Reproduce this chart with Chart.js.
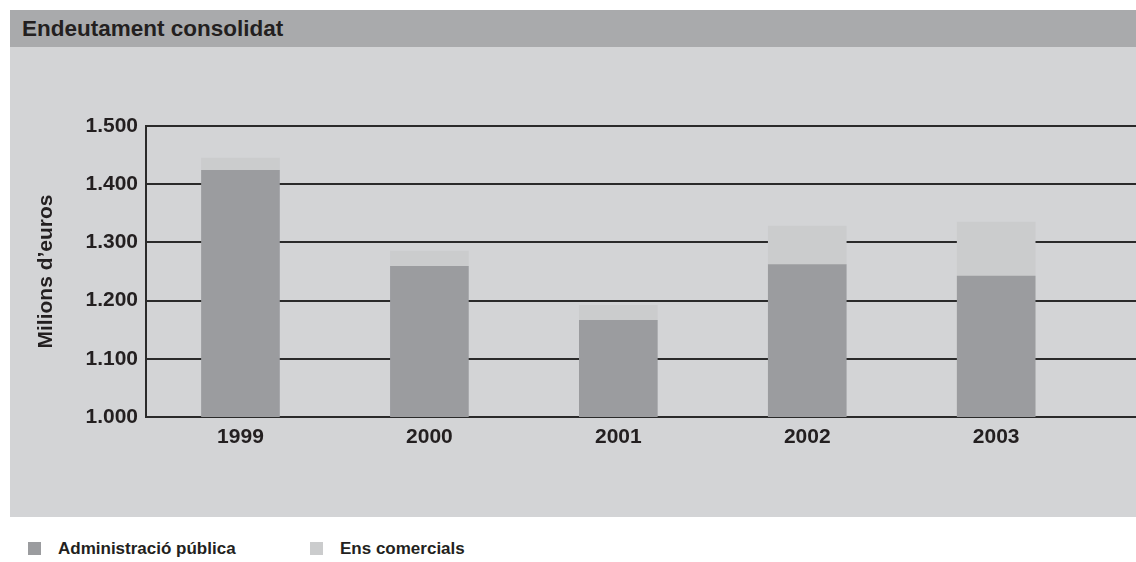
<!DOCTYPE html>
<html>
<head>
  <title>Endeutament consolidat</title>
  <script src="https://cdn.jsdelivr.net/npm/chart.js@4.4.0/dist/chart.umd.min.js"></script>
  <style>
    body {
      margin: 0;
      background: #fff;
      font-family: "Liberation Sans", Arial, sans-serif;
      color: #231f20;
    }
    .header {
      position: absolute;
      left: 10px;
      top: 10px;
      width: 1126px;
      height: 37px;
      background: #a9aaac;
    }
    .header h1 {
      margin: 0;
      padding-left: 12px;
      font-size: 22.5px;
      line-height: 37px;
      font-weight: bold;
    }
    .panel {
      position: absolute;
      left: 10px;
      top: 47px;
      width: 1126px;
      height: 470px;
      background: #d3d4d6;
    }
    .legend-item {
      position: absolute;
      top: 538px;
      height: 22px;
      font-size: 17px;
      font-weight: bold;
      line-height: 22px;
      white-space: nowrap;
    }
    .legend-item .box {
      display: inline-block;
      width: 13px;
      height: 13px;
      margin-right: 17px;
      vertical-align: -1px;
    }
  </style>
</head>
<body>
  <div class="header"><h1>Endeutament consolidat</h1></div>
  <div class="panel">
    <canvas id="deute-chart" width="1126" height="470"></canvas>
  </div>
  <div id="legend"></div>
  <script>
    // dades llegides del gràfic (milions d'euros)
    var years = ['1999', '2000', '2001', '2002', '2003'];
    var administracio = [1424, 1259, 1166, 1262, 1242];
    var ensComercials = [21, 26, 26, 66, 93];
    var yTicks = [1000, 1100, 1200, 1300, 1400, 1500];
    var seriesNames = ['Administració pública', 'Ens comercials'];
    var seriesColors = ['#9b9c9f', '#cbcccd'];

    var textColor = '#231f20';
    var lineColor = '#2a2a2a';
    var tickFont = { family: '"Liberation Sans", Arial, sans-serif', size: 21, weight: 'bold' };

    function toPoints(values) {
      return values.map(function (v, i) { return { x: i, y: v }; });
    }

    function fmt(v) {
      return String(v).replace(/\B(?=(\d{3})+(?!\d))/g, '.');
    }

    var ctx = document.getElementById('deute-chart').getContext('2d');
    var chart = new Chart(ctx, {
      type: 'bar',
      data: {
        datasets: [{
          label: seriesNames[0],
          data: toPoints(administracio),
          backgroundColor: seriesColors[0],
          barThickness: 78
        }, {
          label: seriesNames[1],
          data: toPoints(ensComercials),
          backgroundColor: seriesColors[1],
          barThickness: 78
        }]
      },
      options: {
        responsive: false,
        animation: false,
        devicePixelRatio: 1,
        layout: { padding: { top: 79, left: 0, right: 0, bottom: 0 } },
        plugins: {
          legend: { display: false },
          tooltip: { enabled: false }
        },
        scales: {
          x: {
            type: 'linear',
            min: -0.5,
            max: 4.74,
            stacked: true,
            offset: false,
            grid: { display: false, drawTicks: false, offset: false },
            border: { display: false },
            afterBuildTicks: function (scale) {
              scale.ticks = years.map(function (y, i) { return { value: i }; });
            },
            afterFit: function (scale) { scale.height = 100; },
            ticks: {
              autoSkip: false,
              maxRotation: 0,
              padding: 8,
              color: textColor,
              font: tickFont,
              callback: function (value) { return years[value]; }
            }
          },
          y: {
            min: 1000,
            max: 1500,
            stacked: true,
            afterBuildTicks: function (scale) {
              scale.ticks = yTicks.map(function (v) { return { value: v }; });
            },
            afterFit: function (scale) { scale.width = 136; },
            grid: { color: lineColor, lineWidth: 2, drawTicks: false },
            border: { display: true, color: lineColor, width: 2 },
            ticks: {
              padding: 8,
              color: textColor,
              font: tickFont,
              callback: function (value) { return fmt(value); }
            },
            title: {
              display: true,
              text: 'Milions d’euros',
              color: textColor,
              font: { family: '"Liberation Sans", Arial, sans-serif', size: 21, weight: 'bold' },
              padding: { top: 24, bottom: 0 }
            }
          }
        }
      }
    });

    // llegenda a sota del requadre
    var legendLeft = [28, 310];
    var legend = document.getElementById('legend');
    seriesNames.forEach(function (name, i) {
      var item = document.createElement('div');
      item.className = 'legend-item';
      item.style.left = legendLeft[i] + 'px';
      item.innerHTML = '<span class="box" style="background:' + seriesColors[i] + '"></span>' + name;
      legend.appendChild(item);
    });
  </script>
</body>
</html>
